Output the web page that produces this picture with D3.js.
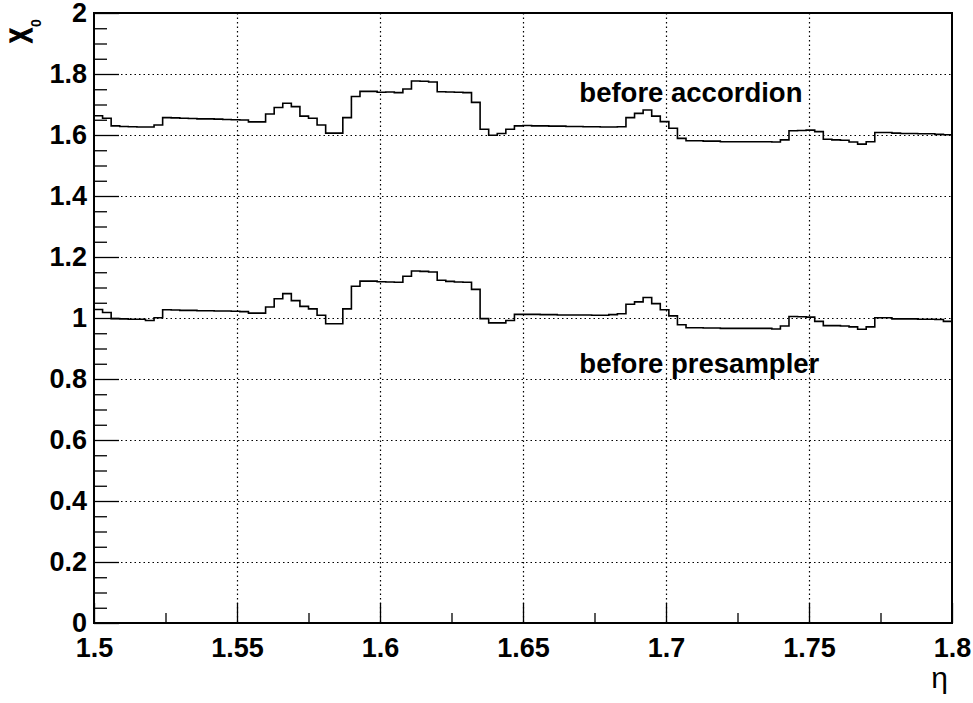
<!DOCTYPE html>
<html>
<head>
<meta charset="utf-8">
<script src="https://cdn.jsdelivr.net/npm/d3@7"></script>
<style>
  html, body { margin: 0; padding: 0; background: #fff; }
  svg { display: block; }
  text { font-family: "Liberation Sans", Arial, Helvetica, sans-serif; }
</style>
</head>
<body>
<svg id="chart" width="973" height="703"></svg>
<script>
// ---- data ----
const etaMin = 1.5, etaMax = 1.8, nBins = 100;
const binWidth = (etaMax - etaMin) / nBins;
const binLow = d3.range(nBins).map(i => etaMin + i * binWidth);

const beforeAccordion = [
  1.663, 1.655, 1.630, 1.628, 1.627, 1.626, 1.626, 1.633, 1.657, 1.656,
  1.655, 1.654, 1.653, 1.653, 1.652, 1.651, 1.650, 1.649, 1.643, 1.643,
  1.669, 1.690, 1.704, 1.693, 1.662, 1.655, 1.633, 1.606, 1.606, 1.657,
  1.726, 1.743, 1.743, 1.740, 1.741, 1.739, 1.751, 1.777, 1.776, 1.774,
  1.742, 1.741, 1.740, 1.739, 1.707, 1.619, 1.599, 1.605, 1.619, 1.630,
  1.631, 1.630, 1.630, 1.629, 1.629, 1.628, 1.628, 1.627, 1.627, 1.626,
  1.626, 1.627, 1.657, 1.671, 1.682, 1.662, 1.644, 1.622, 1.589, 1.581,
  1.581, 1.580, 1.580, 1.578, 1.578, 1.578, 1.578, 1.578, 1.578, 1.577,
  1.584, 1.614, 1.615, 1.616, 1.611, 1.586, 1.584, 1.583, 1.577, 1.570,
  1.578, 1.608, 1.608, 1.606, 1.605, 1.605, 1.604, 1.604, 1.602, 1.601
];

const beforePresampler = [
  1.028, 1.018, 0.998, 0.997, 0.996, 0.996, 0.992, 1.001, 1.027, 1.026,
  1.025, 1.025, 1.024, 1.024, 1.023, 1.023, 1.022, 1.021, 1.016, 1.016,
  1.036, 1.063, 1.080, 1.057, 1.038, 1.030, 1.009, 0.981, 0.981, 1.030,
  1.104, 1.121, 1.121, 1.119, 1.118, 1.117, 1.137, 1.154, 1.153, 1.151,
  1.124, 1.120, 1.118, 1.117, 1.094, 0.998, 0.984, 0.984, 0.992, 1.012,
  1.012, 1.012, 1.011, 1.011, 1.010, 1.010, 1.010, 1.010, 1.009, 1.009,
  1.011, 1.014, 1.045, 1.053, 1.067, 1.047, 1.027, 1.007, 0.978, 0.968,
  0.968, 0.967, 0.967, 0.966, 0.966, 0.966, 0.966, 0.966, 0.966, 0.964,
  0.974, 1.005, 1.004, 1.003, 0.989, 0.975, 0.975, 0.974, 0.971, 0.963,
  0.971, 1.001, 1.001, 0.997, 0.997, 0.997, 0.996, 0.996, 0.995, 0.989
];

const xMajorTicks = [1.5, 1.55, 1.6, 1.65, 1.7, 1.75, 1.8];
const xMinorTicks = [1.525, 1.575, 1.625, 1.675, 1.725, 1.775];
const yMajorTicks = [0, 0.2, 0.4, 0.6, 0.8, 1.0, 1.2, 1.4, 1.6, 1.8, 2.0];
const yMinorTicks = d3.range(0, 2.0001, 0.05).map(v => +v.toFixed(2))
  .filter(v => Math.abs(v * 5 - Math.round(v * 5)) > 1e-6);
const xTickLabels = ["1.5", "1.55", "1.6", "1.65", "1.7", "1.75", "1.8"];
const yTickLabels = ["0", "0.2", "0.4", "0.6", "0.8", "1", "1.2", "1.4", "1.6", "1.8", "2"];

const annotations = [
  { text: "before accordion", eta: 1.6697, value: 1.709 },
  { text: "before presampler", eta: 1.6697, value: 0.8187 }
];

// ---- layout ----
const L = 94, R = 952, T = 13, B = 623;
const svg = d3.select("#chart");
const x = d3.scaleLinear().domain([etaMin, etaMax]).range([L, R]);
const y = d3.scaleLinear().domain([0, 2]).range([B, T]);

// grid
const grid = svg.append("g").attr("stroke", "#000").attr("stroke-width", 1.2)
  .attr("stroke-dasharray", "1.5,3").attr("fill", "none");
grid.selectAll("line.h").data(yMajorTicks.slice(1, -1)).join("line")
  .attr("x1", L).attr("x2", R)
  .attr("y1", d => Math.round(y(d)) + 0.5).attr("y2", d => Math.round(y(d)) + 0.5);
grid.selectAll("line.v").data(xMajorTicks.slice(1, -1)).join("line")
  .attr("y1", T).attr("y2", B)
  .attr("x1", d => Math.round(x(d)) + 0.5).attr("x2", d => Math.round(x(d)) + 0.5);

// axes
const fontSize = 27;
svg.append("g").attr("transform", `translate(${L},0)`)
  .call(d3.axisLeft(y).tickValues(yMajorTicks).tickSizeInner(-25).tickSizeOuter(0)
    .tickPadding(7).tickFormat((d, i) => yTickLabels[i]));
svg.append("g").attr("transform", `translate(${L},0)`)
  .call(d3.axisLeft(y).tickValues(yMinorTicks).tickSizeInner(-13).tickSizeOuter(0)
    .tickFormat(""));
svg.append("g").attr("transform", `translate(0,${B})`)
  .call(d3.axisBottom(x).tickValues(xMajorTicks).tickSizeInner(-20).tickSizeOuter(0)
    .tickPadding(15).tickFormat((d, i) => xTickLabels[i]));
svg.append("g").attr("transform", `translate(0,${B})`)
  .call(d3.axisBottom(x).tickValues(xMinorTicks).tickSizeInner(-10).tickSizeOuter(0)
    .tickFormat(""));
svg.selectAll(".domain").remove();
svg.selectAll(".tick line").attr("stroke", "#000").attr("stroke-width", 1.3);
svg.selectAll(".tick text")
  .attr("font-family", "'Liberation Sans', Arial, sans-serif")
  .attr("font-weight", "bold").attr("font-size", fontSize).attr("fill", "#000");

// frame
svg.append("rect").attr("x", L).attr("y", T).attr("width", R - L).attr("height", B - T)
  .attr("fill", "none").attr("stroke", "#000").attr("stroke-width", 2);

// histograms
function stepPoints(vals) {
  const pts = [];
  vals.forEach((v, i) => {
    pts.push([binLow[i], v]);
    pts.push([binLow[i] + binWidth, v]);
  });
  return pts;
}
const line = d3.line().x(d => x(d[0])).y(d => y(d[1]));
[beforeAccordion, beforePresampler].forEach(series => {
  svg.append("path").datum(stepPoints(series))
    .attr("d", line).attr("fill", "none")
    .attr("stroke", "#000").attr("stroke-width", 1.6);
});

// annotations
svg.selectAll("text.ann").data(annotations).join("text")
  .attr("class", "ann")
  .attr("x", d => x(d.eta)).attr("y", d => y(d.value))
  .attr("font-size", 27.5).attr("font-weight", "bold").attr("fill", "#000")
  .text(d => d.text);

// y title X0 (rotated)
const yt = svg.append("g").attr("transform", "translate(31.7,43) rotate(-90)");
yt.append("text").attr("transform", "scale(0.72,1)")
  .attr("font-size", 31).attr("font-weight", "bold").attr("fill", "#000")
  .attr("stroke", "#000").attr("stroke-width", 1.2)
  .text("X");
yt.append("text").attr("x", 16).attr("y", 9)
  .attr("font-size", 14).attr("font-weight", "bold").attr("fill", "#000")
  .text("0");

// x title eta
svg.append("text").attr("x", 948).attr("y", 688).attr("text-anchor", "end")
  .attr("font-family", "'Liberation Serif', 'DejaVu Serif', serif")
  .attr("font-size", 30).attr("fill", "#000").text("η");
</script>
</body>
</html>
